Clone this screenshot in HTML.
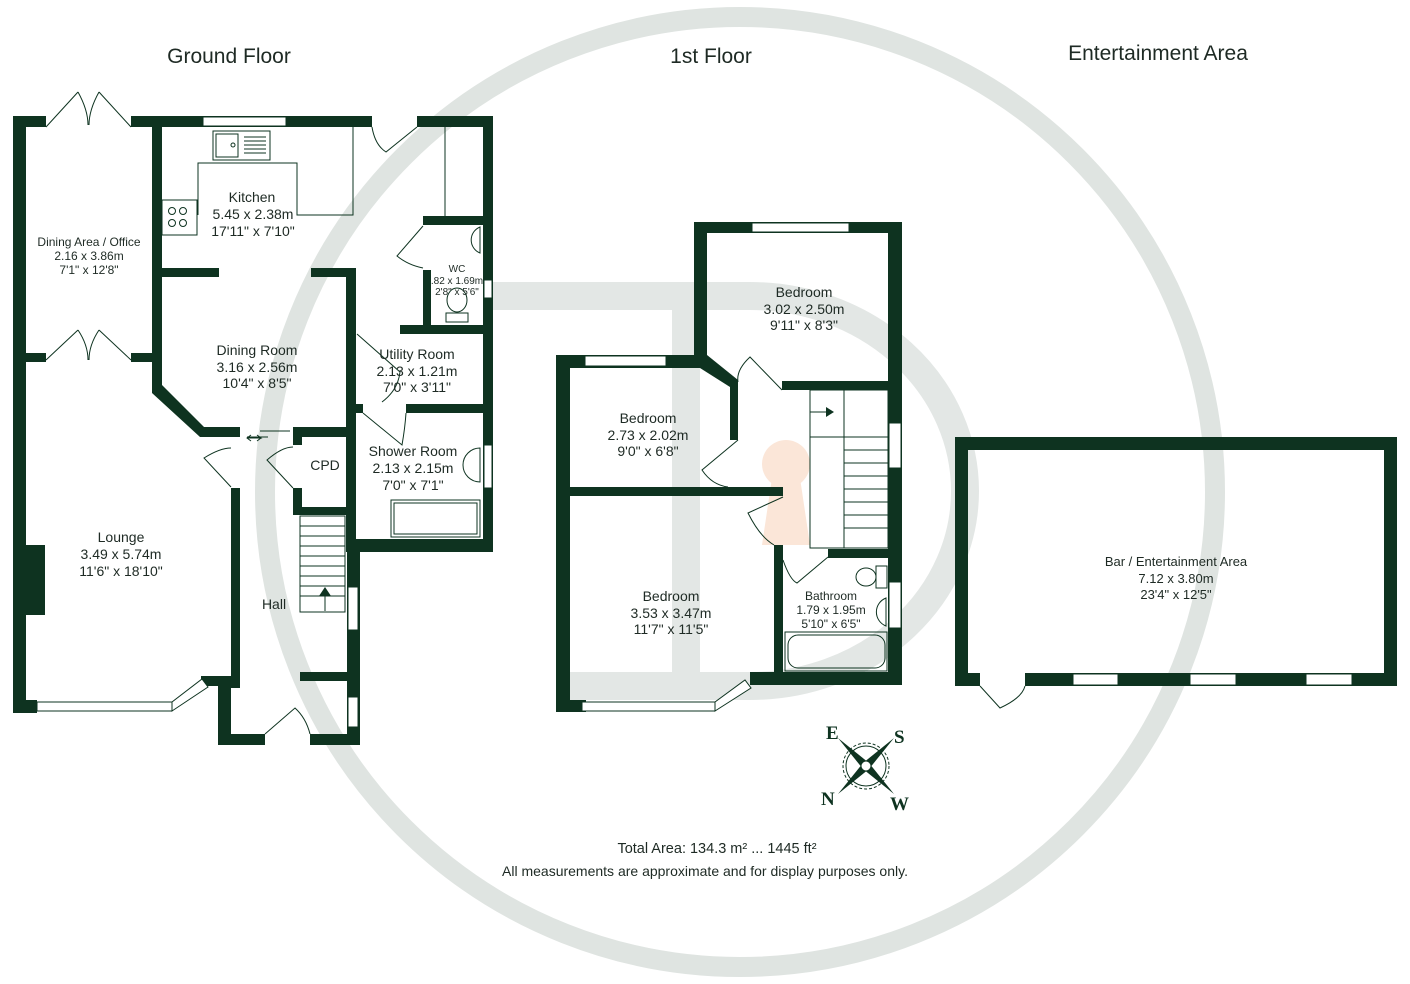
<!DOCTYPE html>
<html><head><meta charset="utf-8"><style>
html,body{margin:0;padding:0;background:#fff;width:1410px;height:984px;overflow:hidden}
svg{display:block}
text{font-family:"Liberation Sans",sans-serif;fill:#1e2a24}
</style></head><body>
<svg width="1410" height="984" viewBox="0 0 1410 984" xmlns="http://www.w3.org/2000/svg">
<!-- watermark -->
<circle cx="740" cy="492" r="475" fill="none" stroke="#dfe4e1" stroke-width="20"/>
<g fill="none" stroke="#e3e7e5" stroke-width="28">
<line x1="686" y1="300" x2="686" y2="690"/>
<path d="M490 296 L750 296 A215 195 0 0 1 750 686 L560 686"/>
</g>
<circle cx="786" cy="464" r="24" fill="#fbe6d8"/>
<polygon points="772,478 800,478 810,545 762,545" fill="#fbe6d8"/>

<g fill="#0e3320">
<!-- GROUND FLOOR -->
<rect x="13" y="116" width="13" height="597"/>
<rect x="13" y="116" width="33" height="11"/>
<rect x="131" y="116" width="241" height="11"/>
<rect x="417" y="116" width="76" height="11"/>
<rect x="483" y="116" width="10" height="436"/>
<rect x="152" y="127" width="10" height="260"/>
<polygon points="152,385 162,385 204,427 240,427 240,437 200,437 152,393"/>
<rect x="26" y="353" width="20" height="9"/>
<rect x="131" y="353" width="21" height="9"/>
<rect x="152" y="268" width="67" height="9"/>
<rect x="311" y="268" width="44" height="9"/>
<rect x="346" y="268" width="10" height="284"/>
<rect x="231" y="488" width="9" height="200"/>
<rect x="13" y="700" width="24" height="13"/>
<rect x="218" y="678" width="13" height="67"/>
<rect x="201" y="676" width="30" height="10"/>
<rect x="218" y="734" width="47" height="11"/>
<rect x="310" y="734" width="50" height="11"/>
<rect x="347" y="540" width="13" height="205"/>
<rect x="300" y="672" width="47" height="9"/>
<rect x="293" y="427" width="54" height="10"/>
<rect x="293" y="427" width="9" height="18"/>
<rect x="293" y="488" width="9" height="27"/>
<rect x="293" y="507" width="54" height="8"/>
<rect x="26" y="545" width="19" height="70"/>
<rect x="400" y="325" width="83" height="9"/>
<rect x="423" y="216" width="60" height="9"/>
<rect x="423" y="270" width="8" height="56"/>
<rect x="406" y="404" width="77" height="9"/>
<rect x="355" y="404" width="8" height="9"/>
<rect x="356" y="539" width="137" height="13"/>

<!-- 1ST FLOOR -->
<rect x="694" y="222" width="208" height="11"/>
<rect x="694" y="222" width="13" height="146"/>
<rect x="888" y="222" width="14" height="463"/>
<rect x="782" y="381" width="120" height="9"/>
<rect x="556" y="355" width="151" height="13"/>
<polygon points="700,355 707,355 738,380 738,387 730,387 700,368"/>
<rect x="730" y="383" width="8" height="57"/>
<rect x="556" y="355" width="14" height="357"/>
<rect x="570" y="487" width="213" height="9"/>
<rect x="774" y="545" width="9" height="140"/>
<rect x="828" y="549" width="74" height="9"/>
<rect x="750" y="672" width="152" height="13"/>
<rect x="556" y="700" width="30" height="12"/>

<!-- ENTERTAINMENT -->
<rect x="955" y="437" width="442" height="13"/>
<rect x="955" y="437" width="13" height="249"/>
<rect x="1384" y="437" width="13" height="249"/>
<rect x="955" y="673" width="25" height="13"/>
<rect x="1025" y="673" width="372" height="13"/>
</g>

<!-- windows -->
<g fill="#fff" stroke="#0e3320" stroke-width="1">
<rect x="203" y="117" width="83" height="9"/>
<rect x="37" y="702" width="135" height="9"/>
<polygon points="172,711 172,702 202,679 208,687"/>
<rect x="348" y="587" width="10" height="43"/>
<rect x="348" y="697" width="10" height="30"/>
<rect x="484" y="280" width="8" height="18"/>
<rect x="484" y="445" width="8" height="43"/>
<rect x="752" y="223" width="97" height="9"/>
<rect x="585" y="356" width="81" height="10"/>
<rect x="889" y="423" width="12" height="45"/>
<rect x="889" y="582" width="12" height="46"/>
<rect x="582" y="702" width="133" height="9"/>
<polygon points="715,711 715,702 745,680 751,688"/>
<rect x="1073" y="674" width="45" height="11"/>
<rect x="1190" y="674" width="46" height="11"/>
<rect x="1306" y="674" width="46" height="11"/>
</g>

<!-- thin fixtures & doors -->
<g fill="none" stroke="#0e3320" stroke-width="1">
<path d="M46 127 L78 92 M131 127 L99 92 M78 92 Q88 110 88 125 M99 92 Q89 110 89 125"/>
<path d="M46 360 L78 330 M131 360 L99 330 M78 330 Q88 345 88 360 M99 330 Q89 345 89 360"/>
<rect x="213" y="131" width="57" height="29"/>
<rect x="216" y="134" width="22" height="23"/>
<circle cx="233" cy="145" r="2"/>
<path d="M244 137h22M244 141h22M244 145h22M244 149h22M244 153h22"/>
<path d="M198 215 V163 H297 V215 H353 V127"/>
<rect x="162" y="200" width="35" height="35"/>
<circle cx="172" cy="211" r="3.5"/><circle cx="183" cy="211" r="3.5"/>
<circle cx="172" cy="223" r="3.5"/><circle cx="183" cy="223" r="3.5"/>
<line x1="445" y1="127" x2="445" y2="216"/>
<path d="M372 127 Q375 145 386 152 L417 127"/>
<path d="M423 226 L397 256 Q408 265 423 268"/>
<path d="M480 227 A14 14 0 0 0 480 253 Z"/>
<ellipse cx="457" cy="300" rx="10" ry="12"/>
<rect x="446" y="313" width="22" height="9"/>
<path d="M357 334 L400 372 Q398 390 382 402"/>
<path d="M363 413 L402 445 Q405 428 406 413"/>
<path d="M480 448 A16 16 0 0 0 480 482 Z"/>
<rect x="391" y="500" width="89" height="37"/>
<rect x="394" y="503" width="83" height="31"/>
<path d="M260 431 H290 M247 437 H268 M251 441 l-4 -3 4 -3 M247 438 h14 l-4 -3 M261 438 l-4 3"/>
<path d="M231 487 L204 458 Q220 448 231 448"/>
<path d="M293 488 L267 460 Q282 447 293 447"/>
<rect x="300" y="516" width="45" height="96"/>
<path d="M300 526h45M300 536h45M300 546h45M300 556h45M300 566h45M300 576h45M300 586h45M300 596h45"/>
<path d="M325 611 V593"/>
<path d="M265 734 L295 708 Q306 718 310 734"/>
<!-- first floor -->
<path d="M782 390 L750 357 Q736 370 738 382"/>
<path d="M738 440 L702 470 Q712 485 728 487"/>
<path d="M783 497 L748 513 Q760 537 774 545"/>
<path d="M783 560 Q790 580 797 583 L828 557"/>
<rect x="810" y="390" width="78" height="158"/>
<path d="M810 437 H844 M844 390 V548 M844 437 H888 M844 450h44M844 463h44M844 476h44M844 489h44M844 502h44M844 515h44M844 528h44"/>
<line x1="810" y1="412" x2="826" y2="412"/>
<ellipse cx="866" cy="577" rx="10" ry="9"/>
<rect x="876" y="566" width="11" height="22"/>
<path d="M886 598 A15 15 0 0 0 886 626 Z"/>
<rect x="785" y="632" width="102" height="39"/>
<rect x="788" y="635" width="97" height="33" rx="10"/>
<path d="M980 686 L1000 708 Q1022 698 1025 686"/>
</g>
<g fill="#0e3320">
<polygon points="319,596 331,596 325,587"/>
<polygon points="826,407 826,417 834,412"/>
</g>

<!-- compass -->
<g transform="translate(866,766)">
<circle r="20" fill="none" stroke="#0e3320" stroke-width="1"/>
<circle r="23" fill="none" stroke="#0e3320" stroke-width="1" stroke-dasharray="3 2"/>
<polygon points="-28,-28 -3,3 3,-3" fill="#0e3320"/>
<polygon points="28,28 3,-3 -3,3" fill="#0e3320"/>
<polygon points="28,-28 3,3 -3,-3" fill="#0e3320"/>
<polygon points="-28,28 -3,-3 3,3" fill="#0e3320"/>
<circle r="5" fill="#fff" stroke="#0e3320"/>
</g>
<g font-weight="bold" font-size="19">
<text x="826" y="739" style="font-family:'Liberation Serif',serif;fill:#0e3320">E</text>
<text x="894" y="743" style="font-family:'Liberation Serif',serif;fill:#0e3320">S</text>
<text x="821" y="805" style="font-family:'Liberation Serif',serif;fill:#0e3320">N</text>
<text x="890" y="810" style="font-family:'Liberation Serif',serif;fill:#0e3320">W</text>
</g>

<!-- labels -->
<g text-anchor="middle">
<text x="229" y="63" font-size="21">Ground Floor</text>
<text x="711" y="63" font-size="21">1st Floor</text>
<text x="1158" y="60" font-size="21">Entertainment Area</text>
<g font-size="12"><text x="89" y="246">Dining Area / Office</text><text x="89" y="260">2.16 x 3.86m</text><text x="89" y="274">7'1" x 12'8"</text></g>
<g font-size="14"><text x="252" y="202">Kitchen</text><text x="253" y="219">5.45 x 2.38m</text><text x="253" y="236">17'11" x 7'10"</text></g>
<g font-size="14"><text x="257" y="355">Dining Room</text><text x="257" y="372">3.16 x 2.56m</text><text x="257" y="388">10'4" x 8'5"</text></g>
<g font-size="14"><text x="417" y="359">Utility Room</text><text x="417" y="376">2.13 x 1.21m</text><text x="417" y="392">7'0" x 3'11"</text></g>
<g font-size="14"><text x="413" y="456">Shower Room</text><text x="413" y="473">2.13 x 2.15m</text><text x="413" y="490">7'0" x 7'1"</text></g>
<g font-size="10"><text x="457" y="272">WC</text><text x="457" y="284">.82 x 1.69m</text><text x="457" y="295">2'8" x 5'6"</text></g>
<text x="325" y="470" font-size="14">CPD</text>
<text x="274" y="609" font-size="14">Hall</text>
<g font-size="14"><text x="121" y="542">Lounge</text><text x="121" y="559">3.49 x 5.74m</text><text x="121" y="576">11'6" x 18'10"</text></g>
<g font-size="14"><text x="804" y="297">Bedroom</text><text x="804" y="314">3.02 x 2.50m</text><text x="804" y="330">9'11" x 8'3"</text></g>
<g font-size="14"><text x="648" y="423">Bedroom</text><text x="648" y="440">2.73 x 2.02m</text><text x="648" y="456">9'0" x 6'8"</text></g>
<g font-size="14"><text x="671" y="601">Bedroom</text><text x="671" y="618">3.53 x 3.47m</text><text x="671" y="634">11'7" x 11'5"</text></g>
<g font-size="12"><text x="831" y="600">Bathroom</text><text x="831" y="614">1.79 x 1.95m</text><text x="831" y="628">5'10" x 6'5"</text></g>
<g font-size="13"><text x="1176" y="566">Bar / Entertainment Area</text><text x="1176" y="583">7.12 x 3.80m</text><text x="1176" y="599">23'4" x 12'5"</text></g>
<text x="717" y="853" font-size="14.5">Total Area: 134.3 m² ... 1445 ft²</text>
<text x="705" y="876" font-size="14">All measurements are approximate and for display purposes only.</text>
</g>
</svg>
</body></html>
